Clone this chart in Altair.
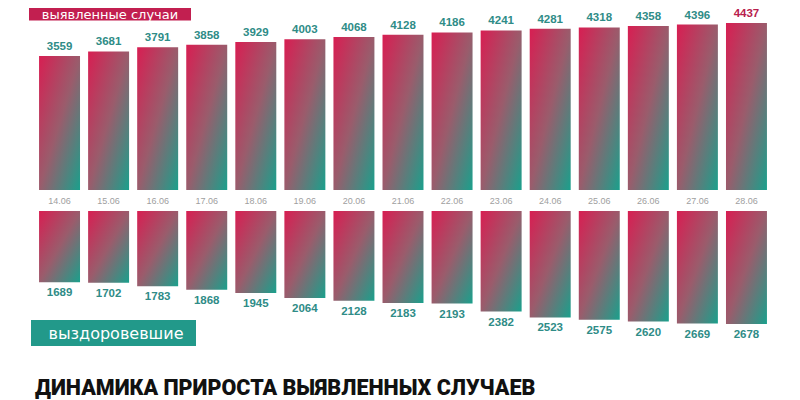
import altair as alt
import pandas as pd

# ---- data ----
dates = ["14.06", "15.06", "16.06", "17.06", "18.06", "19.06", "20.06", "21.06",
         "22.06", "23.06", "24.06", "25.06", "26.06", "27.06", "28.06"]
detected = [3559, 3681, 3791, 3858, 3929, 4003, 4068, 4128, 4186, 4241, 4281,
            4318, 4358, 4396, 4437]
recovered = [1689, 1702, 1783, 1868, 1945, 2064, 2128, 2183, 2193, 2382, 2523,
             2575, 2620, 2669, 2678]
highlight_date = "28.06"

top_label = "выявленные случаи"
bottom_label = "выздоровевшие"
title_text = "ДИНАМИКА ПРИРОСТА ВЫЯВЛЕННЫХ СЛУЧАЕВ"

# ---- styles ----
CRIMSON = "#d81e52"
MID = "#9a5c6c"
TEAL = "#1aa08c"
BOX_CRIMSON = "#c21f50"
BOX_TEAL = "#22998a"
LABEL_TEAL = "#2f8c87"
LABEL_CRIMSON = "#b8204d"
SANS = "Liberation Sans, Arial, sans-serif"

grad = alt.Gradient(
    gradient="linear",
    stops=[alt.GradientStop(color=CRIMSON, offset=0),
           alt.GradientStop(color=MID, offset=0.5),
           alt.GradientStop(color=TEAL, offset=1)],
    x1=0, y1=0, x2=1, y2=1,
)

df = pd.DataFrame({"date": dates, "detected": detected, "recovered": recovered})
base = alt.Chart(df)

x = alt.X("date:N", sort=dates, axis=None,
          scale=alt.Scale(range=[27, 763], paddingInner=0.165, paddingOuter=0.0825))

top_scale = alt.Scale(domain=[0, max(detected)], range=[182, 15], nice=False, zero=True)
bot_scale = alt.Scale(domain=[0, max(recovered)], range=[203, 316], nice=False, zero=True)

label_color = alt.condition(alt.datum.date == highlight_date,
                            alt.value(LABEL_CRIMSON), alt.value(LABEL_TEAL))

bars_top = base.mark_bar(color=grad).encode(
    x=x, y=alt.Y("detected:Q", scale=top_scale, axis=None))
text_top = base.mark_text(dy=-4, baseline="bottom", fontSize=11.5, fontWeight="bold",
                          font=SANS).encode(
    x=x, y=alt.Y("detected:Q", scale=top_scale, axis=None),
    text="detected:Q", color=label_color)

date_text = base.mark_text(fontSize=9, color="#a0a0a0", baseline="middle",
                           font=SANS).encode(
    x=x, y=alt.value(193), text="date:N")

bars_bot = base.mark_bar(color=grad).encode(
    x=x, y=alt.Y("recovered:Q", scale=bot_scale, axis=None))
text_bot = base.mark_text(dy=5, baseline="top", fontSize=11.5, fontWeight="bold",
                          font=SANS, color=LABEL_TEAL).encode(
    x=x, y=alt.Y("recovered:Q", scale=bot_scale, axis=None),
    text="recovered:Q")

top_df = pd.DataFrame({"label": [top_label]})
top_box = alt.Chart(top_df).mark_rect(color=BOX_CRIMSON).encode(
    x=alt.value(21), x2=alt.value(183), y=alt.value(0), y2=alt.value(12.5))
top_box_text = alt.Chart(top_df).mark_text(
    color="white", fontSize=13, font="DejaVu Sans", align="center",
    baseline="alphabetic").encode(
    x=alt.value(102), y=alt.value(10.5), text="label:N")

bot_df = pd.DataFrame({"label": [bottom_label]})
bot_box = alt.Chart(bot_df).mark_rect(color=BOX_TEAL).encode(
    x=alt.value(23), x2=alt.value(188), y=alt.value(312), y2=alt.value(338))
bot_box_text = alt.Chart(bot_df).mark_text(
    color="white", fontSize=16, font="DejaVu Sans", align="center",
    baseline="alphabetic").encode(
    x=alt.value(108), y=alt.value(331), text="label:N")

title_df = pd.DataFrame({"t": [title_text]})
title = alt.Chart(title_df).mark_text(
    color="#111111", fontSize=21.5, fontWeight=900,
    font="Roboto, sans-serif",
    align="left", baseline="alphabetic").encode(
    x=alt.value(27), y=alt.value(387), text="t:N")

chart = alt.layer(
    bars_top, text_top, date_text, bars_bot, text_bot,
    top_box, top_box_text, bot_box, bot_box_text, title,
).resolve_scale(y="independent").properties(
    width=784, height=392, padding=0, autosize="none", background="white"
).configure_view(stroke=None)

chart.save("out.html", embed_options={"renderer": "svg", "actions": False})
